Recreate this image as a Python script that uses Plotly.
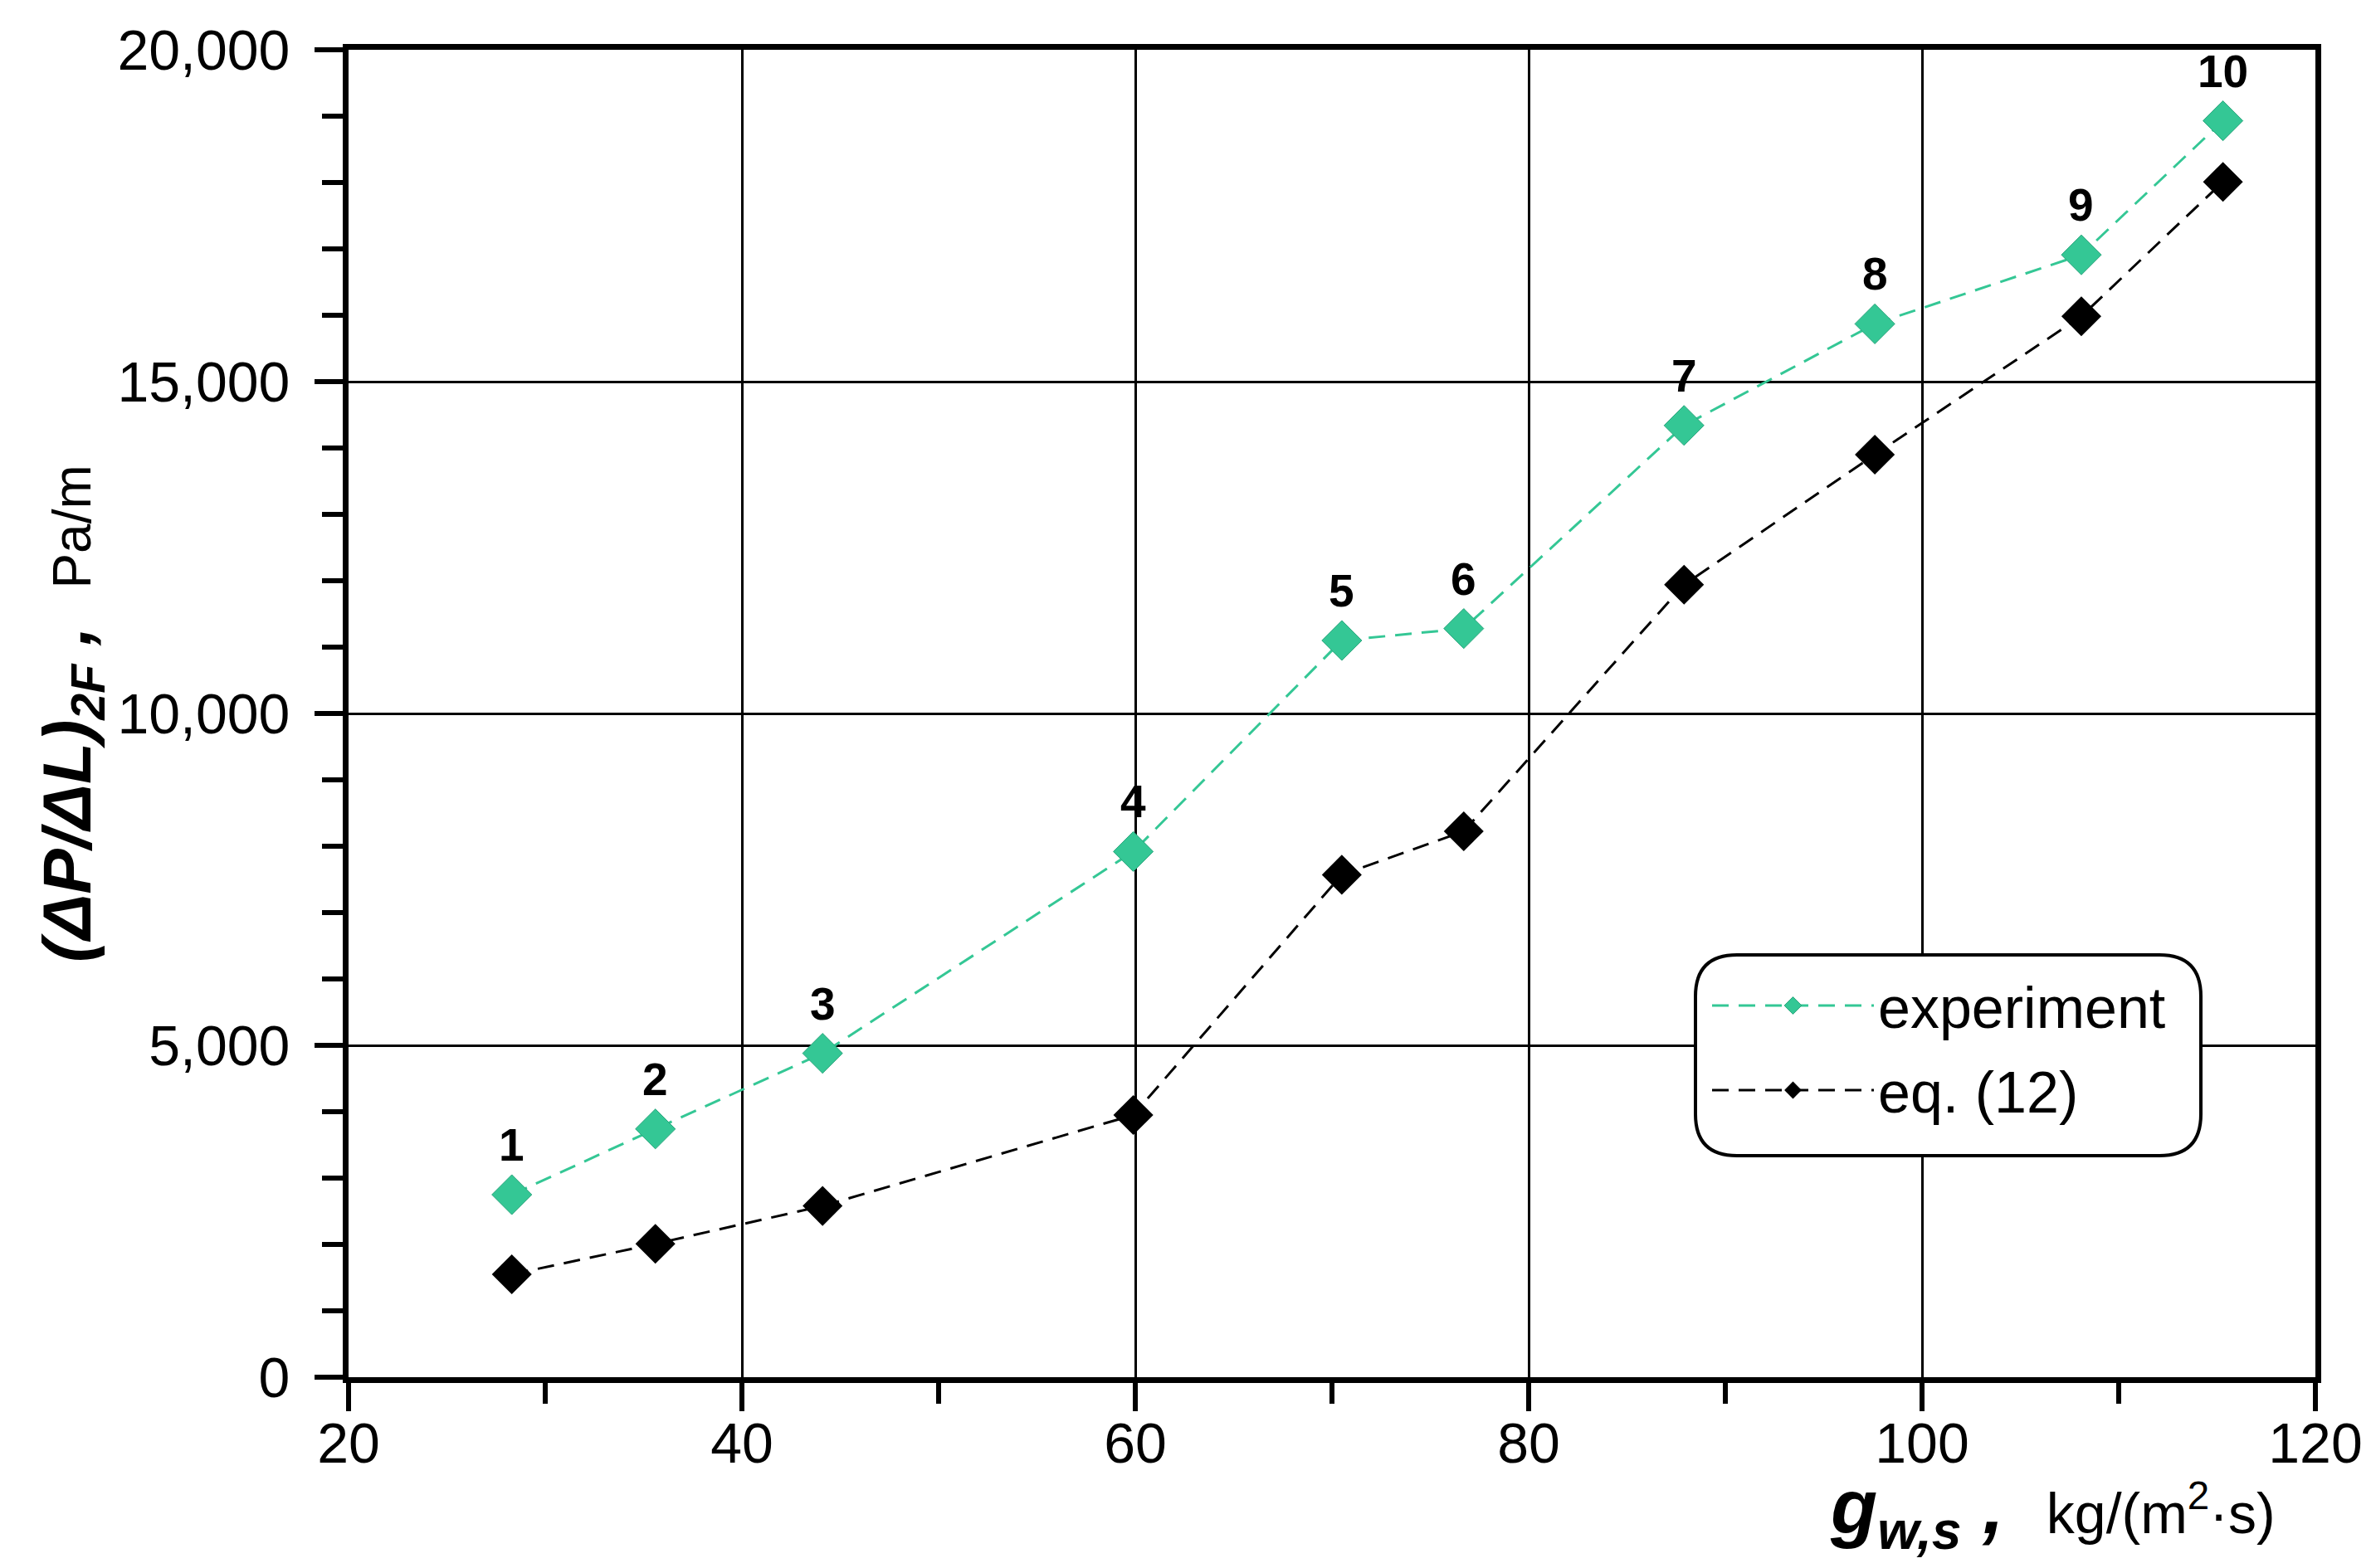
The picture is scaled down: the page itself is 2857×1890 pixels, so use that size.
import plotly.graph_objects as go

# mass flux g_w,s, kg/(m2 s)
g_ws = [28.3, 35.6, 44.1, 59.9, 70.5, 76.7, 87.9, 97.6, 108.1, 115.3]
# pressure gradient, Pa/m
dp_experiment = [2750, 3740, 4880, 7920, 11100, 11280, 14340, 15870, 16910, 18930]
dp_eq12 = [1550, 2010, 2580, 3950, 7570, 8225, 11940, 13900, 15985, 18010]
point_labels = [str(i) for i in range(1, 11)]

GREEN = '#34C795'
FONT = 'Liberation Sans, Arial, sans-serif'

W, H = 2857, 1890
L, R, T, B = 412, 75, 52, 238
pw, ph = W - L - R, H - T - B


def px_x(p):
    return (p - L) / pw


def px_y(p):
    return (H - B - p) / ph


fig = go.Figure()

fig.add_trace(go.Scatter(
    x=g_ws, y=dp_experiment, name='experiment', mode='lines+markers', legendgroup='a',
    line=dict(color=GREEN, width=3, dash='20px,12px'),
    marker=dict(symbol='diamond', size=37, color=GREEN, line=dict(color='#2aa57c', width=1)),
))
fig.add_trace(go.Scatter(
    x=g_ws, y=dp_eq12, name='eq. (12)', mode='lines+markers', legendgroup='b',
    line=dict(color='black', width=3, dash='20px,12px'),
    marker=dict(symbol='diamond', size=37, color='black'),
))

# point numbers above the experiment points
for xv, yv, lab in zip(g_ws, dp_experiment, point_labels):
    fig.add_annotation(x=xv, y=yv, text='<b>' + lab + '</b>', showarrow=False,
                       yshift=60, font=dict(size=55, color='black', family=FONT))

# rounded legend frame
x0, x1, y0, y1, r = px_x(2035), px_x(2644), px_y(1143), px_y(1385), 50
rx, ry = r / pw, r / ph
path = (f'M {x0 + rx},{y0} L {x1 - rx},{y0} Q {x1},{y0} {x1},{y0 - ry} '
        f'L {x1},{y1 + ry} Q {x1},{y1} {x1 - rx},{y1} L {x0 + rx},{y1} '
        f'Q {x0},{y1} {x0},{y1 + ry} L {x0},{y0 - ry} Q {x0},{y0} {x0 + rx},{y0} Z')
fig.add_shape(type='path', path=path, xref='paper', yref='paper',
              line=dict(color='black', width=4), fillcolor='white', layer='above')

# axis titles
fig.add_annotation(
    xref='paper', yref='paper', x=px_x(78), y=px_y(852), xanchor='center', yanchor='middle',
    textangle=-90, showarrow=False,
    text="<b><i>(ΔP/ΔL)<sub>2F</sub> ,</i></b>  <span style='font-size:64px'>Pa/m</span>",
    font=dict(size=82, color='black', family=FONT))
fig.add_annotation(
    xref='paper', yref='paper', x=px_x(2736), y=px_y(1815), xanchor='right', yanchor='middle',
    showarrow=False,
    text="<b><i>g<sub>w,s</sub> ,</i></b>  <span style='font-size:68px'>kg/(m<sup>2</sup>·s)</span>",
    font=dict(size=92, color='black', family=FONT))

axis_common = dict(
    showline=True, linecolor='black', linewidth=7, mirror=True,
    ticks='outside', ticklen=34, tickwidth=6, tickcolor='black',
    showgrid=True, gridcolor='black', gridwidth=3, zeroline=False,
    tickfont=dict(size=68, color='black', family=FONT),
)

fig.update_xaxes(range=[20, 120], dtick=20, tick0=20, ticklabelstandoff=-20,
                 minor=dict(dtick=10, ticks='outside', ticklen=25, tickwidth=6,
                            tickcolor='black', showgrid=False),
                 **axis_common)
fig.update_yaxes(range=[0, 20000], dtick=5000, tickformat=',d', ticklabelstandoff=16,
                 minor=dict(dtick=1000, ticks='outside', ticklen=25, tickwidth=6,
                            tickcolor='black', showgrid=False),
                 **axis_common)

fig.update_layout(
    width=W, height=H,
    margin=dict(l=L, r=R, t=T, b=B),
    plot_bgcolor='white', paper_bgcolor='white',
    font=dict(family=FONT, color='black'),
    showlegend=True,
    legend=dict(x=px_x(2050), y=px_y(1152), xanchor='left', yanchor='top',
                bgcolor='rgba(0,0,0,0)', borderwidth=0, itemwidth=195,
                font=dict(size=70, color='black', family=FONT),
                traceorder='grouped', tracegroupgap=8),
)

fig.write_html("out.html")
